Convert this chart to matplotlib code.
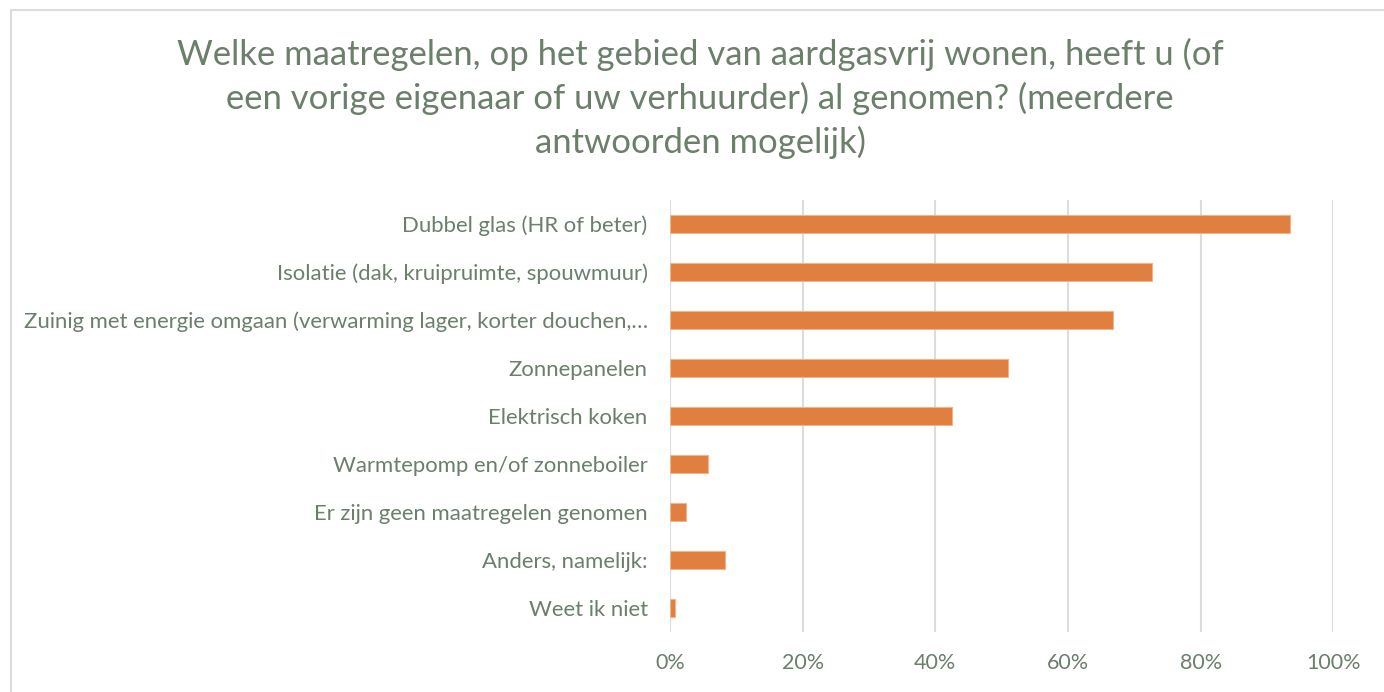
import matplotlib.pyplot as plt
from matplotlib.patches import Rectangle
from matplotlib.ticker import PercentFormatter

# answers, top to bottom as in the chart
labels = [
    'Dubbel glas (HR of beter)',
    'Isolatie (dak, kruipruimte, spouwmuur)',
    'Zuinig met energie omgaan (verwarming lager, korter douchen,…',
    'Zonnepanelen',
    'Elektrisch koken',
    'Warmtepomp en/of zonneboiler',
    'Er zijn geen maatregelen genomen',
    'Anders, namelijk:',
    'Weet ik niet',
]
values = [93.5, 72.6, 66.8, 50.9, 42.5, 5.8, 2.5, 8.3, 0.8]
xticks = [0, 20, 40, 60, 80, 100]

title = ('Welke maatregelen, op het gebied van aardgasvrij wonen, heeft u (of\n'
         'een vorige eigenaar of uw verhuurder) al genomen? (meerdere\n'
         'antwoorden mogelijk)')

text_col = '#6B7F6B'
bar_col = '#E07F3F'
grid_col = '#D9DED9'

plt.rcParams['font.family'] = ['Lato', 'DejaVu Sans']

fig = plt.figure(figsize=(13.84, 6.92), dpi=100)
ax = fig.add_axes([0.484, 0.0867, 0.4795, 0.6243])

pos = list(range(len(labels)))
ax.barh(pos, values, height=0.37, color=bar_col, edgecolor='#F0B48C', linewidth=0.8, zorder=3)
ax.set_ylim(len(labels) - 0.5, -0.5)
ax.set_yticks(pos)
ax.set_yticklabels(labels, fontsize=15.9, color=text_col)
ax.set_xlim(0, 100)
ax.set_xticks(xticks)
ax.xaxis.set_major_formatter(PercentFormatter(decimals=0))
ax.tick_params(axis='x', length=0, pad=15, labelsize=15.5, labelcolor=text_col)
ax.tick_params(axis='y', length=0, pad=16)
ax.grid(axis='x', color=grid_col, linewidth=1.5, zorder=0)
for s in ax.spines.values():
    s.set_visible(False)

fig.text(0.506, 0.946, title, ha='center', va='top', fontsize=24.9, color=text_col,
         linespacing=1.4)

# chart frame
fig.patches.append(Rectangle((11 / 1384, -0.1), 1.2, 1 - 10 / 692 + 0.1,
                             transform=fig.transFigure, fill=False,
                             edgecolor=grid_col, linewidth=1.5))

fig.savefig('out.png', dpi=100)
